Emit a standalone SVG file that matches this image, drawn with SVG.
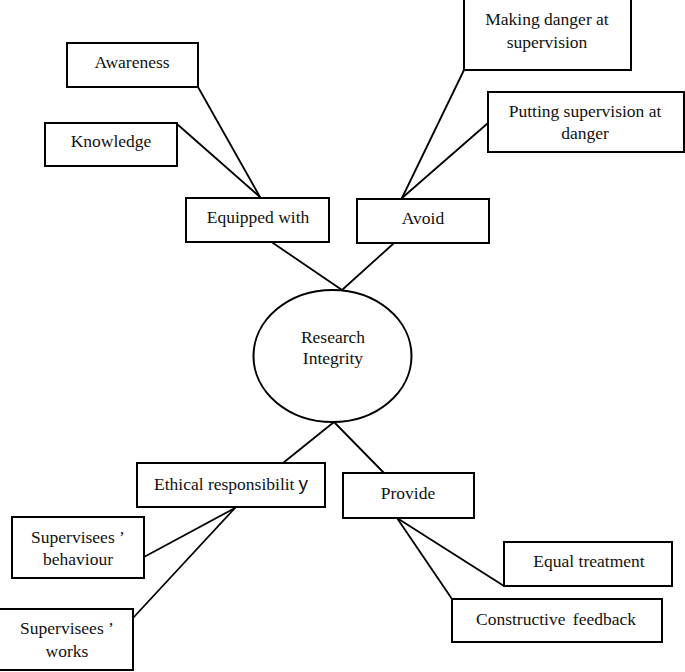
<svg xmlns="http://www.w3.org/2000/svg" width="685" height="672" viewBox="0 0 685 672">
<style>
.box{fill:#fff;stroke:#000;stroke-width:2}
.lk{stroke:#000;stroke-width:1.8;fill:none;stroke-linecap:round}
.t{font-family:'Liberation Serif','DejaVu Serif',serif;font-size:17.5px;fill:#111;text-anchor:middle}
.sans{font-family:'Liberation Sans','DejaVu Sans',sans-serif;font-size:19px}
</style>
<rect width="685" height="672" fill="#fff"/>
<g id="connectors">
<line class="lk" x1="198" y1="87" x2="260" y2="197"/>
<line class="lk" x1="177" y1="124" x2="260" y2="197"/>
<line class="lk" x1="273" y1="243" x2="342" y2="290"/>
<line class="lk" x1="464" y1="70" x2="402" y2="198"/>
<line class="lk" x1="488" y1="123" x2="402" y2="198"/>
<line class="lk" x1="393" y1="244" x2="342" y2="290"/>
<line class="lk" x1="334" y1="422" x2="283" y2="463"/>
<line class="lk" x1="334" y1="422" x2="384" y2="473"/>
<line class="lk" x1="235" y1="508" x2="144" y2="557"/>
<line class="lk" x1="235" y1="508" x2="133" y2="618"/>
<line class="lk" x1="397" y1="518" x2="504" y2="586"/>
<line class="lk" x1="397" y1="518" x2="452" y2="599"/>
</g>
<g font-family="Liberation Serif, DejaVu Serif, serif">
<g id="awareness"><rect class="box" x="67" y="43" width="131" height="44"/><text class="t" x="132" y="68">Awareness</text></g>
<g id="knowledge"><rect class="box" x="45" y="123" width="132" height="43"/><text class="t" x="111" y="147">Knowledge</text></g>
<g id="equipped"><rect class="box" x="186" y="198" width="143" height="44"/><text class="t" x="258" y="223">Equipped with</text></g>
<g id="making"><rect class="box" x="464" y="-1" width="167" height="71"/><text class="t" x="547" y="25">Making danger at</text><text class="t" x="547" y="48">supervision</text></g>
<g id="putting"><rect class="box" x="488" y="92" width="196" height="60"/><text class="t" x="585" y="117">Putting supervision at</text><text class="t" x="585" y="139">danger</text></g>
<g id="avoid"><rect class="box" x="357" y="199" width="132" height="44"/><text class="t" x="423" y="224">Avoid</text></g>
<g id="research"><ellipse class="box" cx="332.5" cy="356" rx="79" ry="66"/><text class="t" x="333" y="343">Research</text><text class="t" x="333" y="364">Integrity</text></g>
<g id="ethical"><rect class="box" x="137" y="463" width="188" height="44"/><text class="t" x="231" y="490">Ethical responsibilit<tspan class="sans" dx="4">y</tspan></text></g>
<g id="behaviour"><rect class="box" x="12" y="517" width="132" height="61"/><text class="t" x="78" y="543">Supervisees ’</text><text class="t" x="78" y="565">behaviour</text></g>
<g id="works"><rect class="box" x="-1" y="609" width="134" height="61"/><text class="t" x="67" y="634">Supervisees ’</text><text class="t" x="67" y="657">works</text></g>
<g id="provide"><rect class="box" x="343" y="473" width="131" height="45"/><text class="t" x="408" y="499">Provide</text></g>
<g id="equal"><rect class="box" x="504" y="542" width="168" height="44"/><text class="t" x="589" y="567">Equal treatment</text></g>
<g id="constructive"><rect class="box" x="452" y="599" width="210" height="43"/><text class="t" x="556" y="625">Constructive <tspan dx="3">feedback</tspan></text></g>
</g>
</svg>
